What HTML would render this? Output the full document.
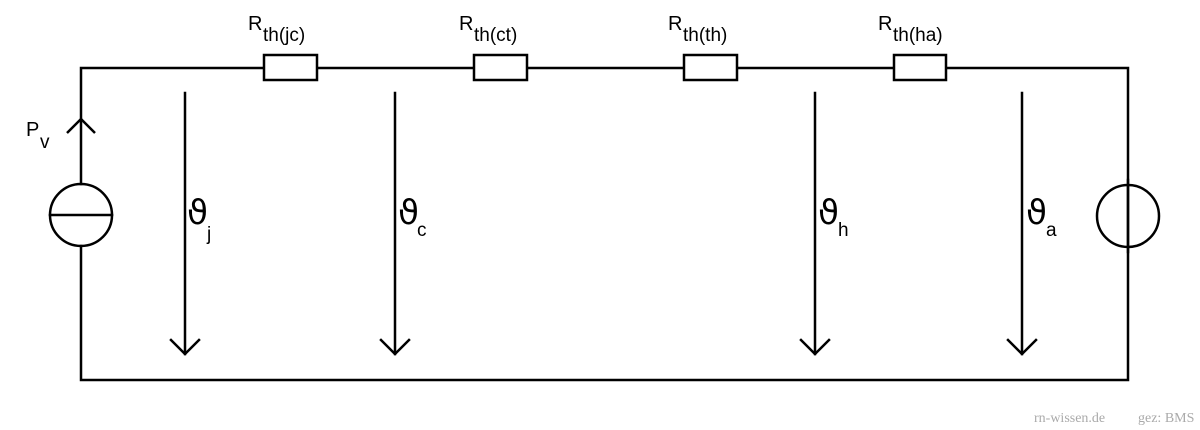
<!DOCTYPE html>
<html><head><meta charset="utf-8"><style>
html,body{margin:0;padding:0;background:#fff;}
svg{display:block}
text{font-family:"Liberation Sans","DejaVu Sans",sans-serif;fill:#000}
</style></head><body>
<svg width="1200" height="430" viewBox="0 0 1200 430" xmlns="http://www.w3.org/2000/svg">
<g stroke="#000" stroke-width="2.5" fill="none" stroke-linecap="square">
<path d="M81 184 V68 H263 M317 68 H474 M527 68 H684 M737 68 H893 M946 68 H1128 V380 H81 V246"/>
<line x1="1128" y1="180" x2="1128" y2="252"/>
<rect x="264" y="55" width="53" height="25" fill="#fff"/>
<rect x="474" y="55" width="53" height="25" fill="#fff"/>
<rect x="684" y="55" width="53" height="25" fill="#fff"/>
<rect x="894" y="55" width="52" height="25" fill="#fff"/>
<circle cx="81" cy="215" r="31"/>
<line x1="50" y1="215" x2="112" y2="215"/>
<circle cx="1128" cy="216" r="31"/>
<path d="M67 133 L81 119 L95 133" stroke-linecap="butt"/>
<path d="M185 93 V354 M171 340 L185 354 L199 340"/>
<path d="M395 93 V354 M381 340 L395 354 L409 340"/>
<path d="M815 93 V354 M801 340 L815 354 L829 340"/>
<path d="M1022 93 V354 M1008 340 L1022 354 L1036 340"/>
</g>
<g font-size="20">
<text x="248" y="30">R</text><text x="263" y="41" font-size="19">th(jc)</text>
<text x="459" y="30">R</text><text x="474" y="41" font-size="19">th(ct)</text>
<text x="668" y="30">R</text><text x="683" y="41" font-size="19">th(th)</text>
<text x="878" y="30">R</text><text x="893" y="41" font-size="19">th(ha)</text>
<text x="26" y="136">P</text><text x="40" y="148" font-size="19">v</text>
</g>
<g font-size="34" style="font-family:'DejaVu Sans',sans-serif">
<text x="187" y="224" style="font-family:'DejaVu Sans',sans-serif">ϑ</text>
<text x="398" y="224" style="font-family:'DejaVu Sans',sans-serif">ϑ</text>
<text x="818" y="224" style="font-family:'DejaVu Sans',sans-serif">ϑ</text>
<text x="1026" y="224" style="font-family:'DejaVu Sans',sans-serif">ϑ</text>
</g>
<g font-size="19">
<text x="207" y="240">j</text>
<text x="417" y="236">c</text>
<text x="838" y="236">h</text>
<text x="1046" y="236">a</text>
</g>
<text x="1034" y="422" style="fill:#aaa;font-family:'Liberation Serif',serif;font-size:14px">rn-wissen.de</text>
<text x="1138" y="422" style="fill:#aaa;font-family:'Liberation Serif',serif;font-size:14px">gez: BMS</text>
</svg>
</body></html>
